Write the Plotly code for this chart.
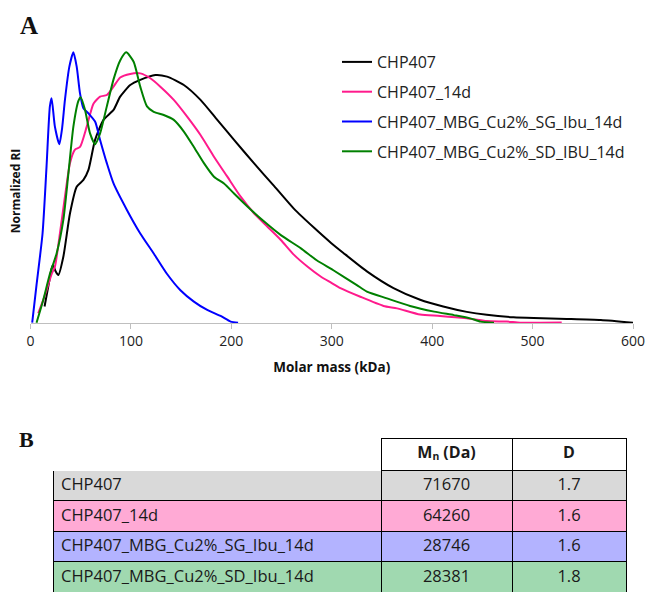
import plotly.graph_objects as go

# ---- data ----
series_names = ["CHP407", "CHP407_14d", "CHP407_MBG_Cu2%_SG_Ibu_14d", "CHP407_MBG_Cu2%_SD_IBU_14d"]

x_chp407 = [14, 18, 21, 22.5, 25, 27.7, 32.7, 39.3, 46, 52.7, 57.7, 64.3, 72.7, 82.7, 89.3, 99.3, 109.3,
            124.3, 136, 152.7, 169.3, 186, 202.7, 222.7, 242.7, 262.7, 282.7, 299.3, 311.6, 335, 361.5,
            388, 411, 434.5, 454.4, 481, 501, 534, 568, 600]
y_chp407 = [0.06, 0.14, 0.2, 0.213, 0.19, 0.176, 0.244, 0.404, 0.503, 0.528, 0.565, 0.676, 0.75, 0.787,
            0.836, 0.879, 0.898, 0.916, 0.91, 0.879, 0.824, 0.75, 0.676, 0.589, 0.505, 0.42, 0.35,
            0.295, 0.258, 0.19, 0.128, 0.085, 0.06, 0.04, 0.029, 0.02, 0.017, 0.014, 0.01, 0.0]

x_14d = [7.7, 12, 16, 21, 24.3, 29.3, 34.3, 39.3, 44.3, 49.3, 56, 62.7, 69.3, 76, 82.7, 89.3, 99.3, 109.3,
         119.3, 129.3, 142.7, 156, 169.3, 182.7, 196, 209.3, 222.7, 236, 249.3, 262.7, 276, 289.3, 299.3,
         308.6, 328.5, 351.6, 365, 388, 408, 434.5, 454.4, 474.3, 487.6, 507.6, 529]
y_14d = [0.035, 0.077, 0.12, 0.18, 0.207, 0.33, 0.466, 0.59, 0.64, 0.65, 0.725, 0.81, 0.836, 0.842, 0.873,
         0.907, 0.92, 0.922, 0.904, 0.873, 0.824, 0.762, 0.694, 0.614, 0.54, 0.466, 0.404, 0.355, 0.306,
         0.25, 0.207, 0.17, 0.148, 0.128, 0.096, 0.062, 0.053, 0.03, 0.025, 0.016, 0.006, 0.004, 0.0,
         0.0, 0.001]

x_sg = [1.7, 6, 12, 16, 19.3, 21, 24.3, 28.7, 31.5, 34.3, 38.7, 42.7, 46, 49.3, 52.7, 57.7, 64.3, 69.3,
        76, 82.7, 96, 109.3, 122.7, 136, 149.3, 162.7, 176, 189.3, 199.3, 206.7]
y_sg = [0, 0.14, 0.33, 0.58, 0.8, 0.83, 0.725, 0.66, 0.72, 0.824, 0.947, 1.0, 0.947, 0.848, 0.793, 0.774,
        0.744, 0.676, 0.59, 0.515, 0.417, 0.33, 0.256, 0.18, 0.12, 0.078, 0.047, 0.025, 0.004, 0.0]

x_sd = [6, 12.7, 19.3, 26, 32.7, 37.7, 42.7, 47.7, 50, 54.3, 59.3, 64.3, 69.3, 76, 82.7, 89.3, 95.3, 102.7,
        109.3, 116, 122.7, 132.7, 142.7, 152.7, 162.7, 172.7, 182.7, 192.7, 202.7, 216, 232.7, 249.3,
        269.3, 285, 301.6, 325, 335, 355, 378, 402, 421.6, 438, 448, 461.6]
y_sd = [0, 0.084, 0.18, 0.256, 0.38, 0.55, 0.725, 0.82, 0.834, 0.787, 0.70, 0.66, 0.70, 0.8, 0.9, 0.97,
        1.0, 0.965, 0.873, 0.8, 0.78, 0.768, 0.75, 0.707, 0.65, 0.59, 0.54, 0.515, 0.478, 0.43, 0.374,
        0.324, 0.275, 0.231, 0.194, 0.139, 0.115, 0.09, 0.062, 0.041, 0.028, 0.016, 0.004, 0.0]

x_tick_vals = [0, 100, 200, 300, 400, 500, 600]

table_samples = ["CHP407", "CHP407_14d", "CHP407_MBG_Cu2%_SG_Ibu_14d", "CHP407_MBG_Cu2%_SD_Ibu_14d"]
table_mn = ["71670", "64260", "28746", "28381"]
table_d = ["1.7", "1.6", "1.6", "1.8"]
table_headers = [" ", "M\u2099 (Da)", "D"]

# ---- styles ----
line_colors = ["#000000", "#ff1a8c", "#0000ff", "#008000"]
row_fills = ["#d9d9d9", "#ffaad5", "#b3b3ff", "#a0d9b0"]
FONT = "Open Sans"
W, H = 646, 592

xs = [x_chp407, x_14d, x_sg, x_sd]
ys = [y_chp407, y_14d, y_sg, y_sd]

fig = go.Figure()
for i, name in enumerate(series_names):
    fig.add_trace(go.Scatter(
        x=xs[i], y=ys[i], mode="lines", name=name, legendgroup=name,
        line=dict(color=line_colors[i], width=2, shape="spline", smoothing=0.6),
    ))

# table
fig.add_trace(go.Table(
    domain=dict(x=[53 / W, 626 / W], y=[0, (H - 438) / H]),
    columnwidth=[328, 131, 114],
    header=dict(
        values=table_headers,
        fill_color=["white", "white", "white"],
        line=dict(color=["white", "black", "black"], width=1),
        align=["left", "center", "center"],
        font=dict(family=FONT, size=16, color="#1a1a1a", weight="bold"),
        height=32,
    ),
    cells=dict(
        values=[table_samples, table_mn, table_d],
        fill_color=[row_fills, row_fills, row_fills],
        line=dict(color="black", width=1),
        align=["left", "center", "center"],
        font=dict(family=FONT, size=16.5, color="#1a1a1a"),
        height=30.5,
    ),
))

y_axis_px = 322.7          # pixel row of the x axis line (y = 0)
px_per_unit = 270.4
y_top_val = 1.05
y_top_px = y_axis_px - y_top_val * px_per_unit
y_dom_bottom_px = 343.2
y_min_val = -(y_dom_bottom_px - y_axis_px) / px_per_unit

fig.update_layout(
    width=W, height=H,
    margin=dict(l=0, r=0, t=0, b=0, autoexpand=False),
    paper_bgcolor="white", plot_bgcolor="white",
    font=dict(family=FONT, color="#222"),
    xaxis=dict(
        domain=[30.5 / W, 633 / W], range=[0, 600], automargin=False,
        anchor="free", position=(H - y_axis_px) / H,
        tickvals=x_tick_vals, ticks="outside", ticklen=5, tickcolor="#bfbfbf",
        showline=True, linecolor="#bfbfbf", linewidth=1, showgrid=False, zeroline=False,
        tickfont=dict(family=FONT, size=14, color="#222"),
        title=dict(text="<b>Molar mass (kDa)</b>", font=dict(family=FONT, size=13.5, color="#111"), standoff=14),
    ),
    yaxis=dict(
        domain=[(H - y_dom_bottom_px) / H, (H - y_top_px) / H], range=[y_min_val, y_top_val],
        automargin=False,
        showline=False, showgrid=False, zeroline=False, showticklabels=False, ticks="",
        title=dict(text="<b>Normalized RI</b>", font=dict(family=FONT, size=12, color="#111"), standoff=6),
    ),
    legend=dict(
        x=337 / W, y=(H - 45) / H, xanchor="left", yanchor="top",
        font=dict(family=FONT, size=16, color="#222"), tracegroupgap=6,
        bgcolor="rgba(0,0,0,0)",
    ),
    annotations=[
        dict(text="<b>A</b>", x=18 / W, y=(H - 10) / H, xref="paper", yref="paper",
             xanchor="left", yanchor="top", showarrow=False,
             font=dict(family="Liberation Serif", size=25, color="#111")),
        dict(text="<b>B</b>", x=17 / W, y=(H - 425) / H, xref="paper", yref="paper",
             xanchor="left", yanchor="top", showarrow=False,
             font=dict(family="Liberation Serif", size=22, color="#111")),
    ],
)

fig.write_html("out.html")
